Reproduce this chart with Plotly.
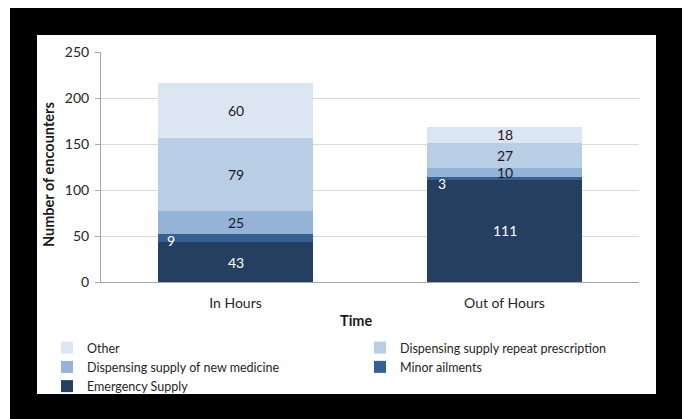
import plotly.graph_objects as go

# ---- data ----
categories = ["In Hours", "Out of Hours"]
series_names = ["Emergency Supply", "Minor ailments", "Dispensing supply of new medicine",
                "Dispensing supply repeat prescription", "Other"]
emergency_supply = [43, 111]
minor_ailments = [9, 3]
new_medicine = [25, 10]
repeat_prescription = [79, 27]
other = [60, 18]
y_ticks = [0, 50, 100, 150, 200, 250]

# ---- style ----
colors = ["#243F60", "#376092", "#95B3D7", "#B9CDE5", "#DCE6F2"]
label_colors = ["white", "white", "#1a1a1a", "#1a1a1a", "#1a1a1a"]
FONT = "Lato, 'Open Sans', sans-serif"
W, H = 686, 419
L, R, T, B = 101, 47, 52, 137
pw, ph = W - L - R, H - T - B

def px_x(x):
    return (x - L) / pw

def px_y(y):
    return (H - B - y) / ph

values = [emergency_supply, minor_ailments, new_medicine, repeat_prescription, other]

fig = go.Figure()
for name, vals, col in zip(series_names, values, colors):
    fig.add_trace(go.Bar(x=categories, y=vals, name=name, marker=dict(color=col, line=dict(width=0))))

# data labels
annotations = []
base = [0] * len(categories)
label_shift = {(1, 0): (-65, -2), (1, 1): (-63, -5)}  # minor ailments labels sit at the bar's left edge
for si, vals in enumerate(values):
    for ci, v in enumerate(vals):
        xs, ys = label_shift.get((si, ci), (0, 0))
        annotations.append(dict(x=categories[ci], y=base[ci] + v / 2, text=str(v), showarrow=False,
                                xshift=xs, yshift=ys,
                                font=dict(family=FONT, size=14, color=label_colors[si])))
        base[ci] += v

annotations.append(dict(xref="paper", yref="paper", x=px_x(48), y=px_y(175), text="<b>Number of encounters</b>",
                        xanchor="center", yanchor="middle",
                        textangle=-90, showarrow=False, font=dict(family=FONT, size=14.5, color="#1a1a1a")))
annotations.append(dict(xref="paper", yref="paper", x=px_x(356), y=px_y(320), text="<b>Time</b>",
                        xanchor="center", yanchor="middle",
                        showarrow=False, font=dict(family=FONT, size=14.5, color="#1a1a1a")))

shapes = [
    dict(type="rect", xref="paper", yref="paper", x0=px_x(10), x1=px_x(682), y0=px_y(8), y1=px_y(419),
         fillcolor="black", line=dict(width=0), layer="below"),
    dict(type="rect", xref="paper", yref="paper", x0=px_x(37), x1=px_x(656), y0=px_y(35), y1=px_y(394),
         fillcolor="white", line=dict(width=0), layer="below"),
]

fig.update_layout(
    width=W, height=H, margin=dict(l=L, r=R, t=T, b=B, autoexpand=False),
    barmode="stack", bargap=0.427,
    paper_bgcolor="white", plot_bgcolor="white",
    font=dict(family=FONT, size=14, color="#262626"),
    annotations=annotations, shapes=shapes,
    legend=dict(orientation="h", traceorder="reversed", x=px_x(47), y=px_y(333), xanchor="left", yanchor="top",
                entrywidth=268, entrywidthmode="pixels", bgcolor="rgba(0,0,0,0)",
                font=dict(family=FONT, size=12.5, color="#262626"), tracegroupgap=0),
    xaxis=dict(showline=True, linecolor="#A6A6A6", linewidth=1, ticks="", showgrid=False,
               tickfont=dict(size=14), ticklabelstandoff=8),
    yaxis=dict(range=[0, 250], tickvals=y_ticks, showgrid=True, gridcolor="#D9D9D9", gridwidth=1,
               showline=True, linecolor="#A6A6A6", ticks="outside", ticklen=5, tickcolor="#A6A6A6",
               tickfont=dict(size=14), zeroline=False, ticklabelstandoff=3),
)

fig.write_html("out.html")
